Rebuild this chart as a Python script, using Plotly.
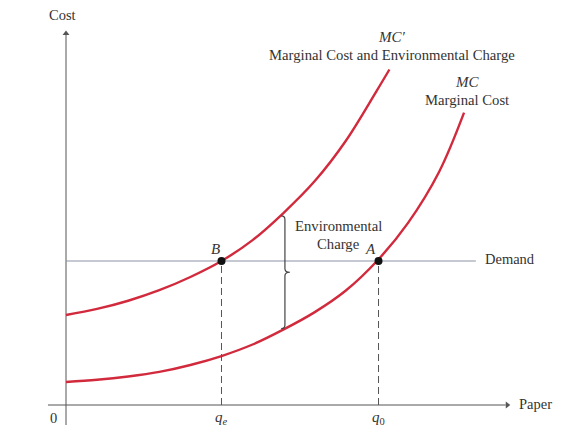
import numpy as np
import plotly.graph_objects as go

# ---- data ----
mc_env_x = [0, 1, 2, 3, 4, 5, 6, 7, 8, 9, 10, 10.4]
mc_env_y = [6.25, 6.67, 7.24, 7.97, 8.89, 10.0, 11.45, 13.35, 15.55, 18.35, 21.85, 23.3]

mc_x = [0, 1, 2, 3, 4, 5, 6, 7, 8, 9, 10, 11, 12, 12.8]
mc_y = [1.6, 1.75, 1.98, 2.3, 2.78, 3.4, 4.2, 5.25, 6.45, 7.95, 10.0, 12.65, 16.2, 20.3]

demand_price = 10.0
demand_x_end = 13.18
q_e = 5.0
q_0 = 10.05
brace_x = 7.04

point_q = [q_e, q_0]

# axis extents (data units)
x_axis_span = [-0.58, 14.34]
y_axis_span = [-1.39, 26.1]

RED = "#d22a3d"
TXT = "#333333"
AX = "#555555"
FONT = "Liberation Serif"

fig = go.Figure()

# axes lines
fig.add_trace(go.Scatter(x=[0, 0], y=[y_axis_span[0], y_axis_span[1] - 0.4], mode="lines",
                         line=dict(color=AX, width=1), hoverinfo="skip", showlegend=False))
fig.add_trace(go.Scatter(x=[x_axis_span[0], x_axis_span[1] - 0.2], y=[0, 0], mode="lines",
                         line=dict(color=AX, width=1), hoverinfo="skip", showlegend=False))
# arrow heads
fig.add_trace(go.Scatter(x=[0], y=[y_axis_span[1] - 0.3], mode="markers",
                         marker=dict(symbol="triangle-up", size=6, color=AX),
                         hoverinfo="skip", showlegend=False))
fig.add_trace(go.Scatter(x=[x_axis_span[1] - 0.15], y=[0], mode="markers",
                         marker=dict(symbol="triangle-right", size=6, color=AX),
                         hoverinfo="skip", showlegend=False))

fig.add_trace(go.Scatter(x=mc_env_x, y=mc_env_y, mode="lines",
                         line=dict(color=RED, width=2.4, shape="spline", smoothing=1.0),
                         hoverinfo="skip", showlegend=False))
fig.add_trace(go.Scatter(x=mc_x, y=mc_y, mode="lines",
                         line=dict(color=RED, width=2.4, shape="spline", smoothing=1.0),
                         hoverinfo="skip", showlegend=False))

# demand line
fig.add_trace(go.Scatter(x=[0, demand_x_end], y=[demand_price, demand_price], mode="lines",
                         line=dict(color="#8d91a6", width=1.1),
                         hoverinfo="skip", showlegend=False))

# dashed verticals
for q in point_q:
    fig.add_trace(go.Scatter(x=[q, q], y=[0, demand_price], mode="lines",
                             line=dict(color=AX, width=1, dash="7px,4px"),
                             hoverinfo="skip", showlegend=False))

# equilibrium points
fig.add_trace(go.Scatter(x=point_q, y=[demand_price] * 2, mode="markers",
                         marker=dict(color="#111111", size=8),
                         hoverinfo="skip", showlegend=False))

# brace between curves
top = float(np.interp(brace_x, mc_env_x, mc_env_y)) - 0.3
bot = float(np.interp(brace_x, mc_x, mc_y))
mid = (top + bot) / 2
d = 0.25
path = (f"M {brace_x-0.12},{top} Q {brace_x},{top} {brace_x},{top-d} "
        f"L {brace_x},{mid+d} Q {brace_x},{mid} {brace_x+0.16},{mid} "
        f"Q {brace_x},{mid} {brace_x},{mid-d} "
        f"L {brace_x},{bot+d} Q {brace_x},{bot} {brace_x-0.12},{bot}")
fig.add_shape(type="path", path=path, xref="x", yref="y",
              line=dict(color="#444444", width=1.2))

def txt(x, y, s, size=14.5, xanchor="center", italic=False):
    fig.add_annotation(x=x, y=y, xref="x", yref="y", text=(f"<i>{s}</i>" if italic else s),
                       showarrow=False, xanchor=xanchor, yanchor="middle",
                       font=dict(family=FONT, size=size, color=TXT))

txt(-0.1, 27.1, "Cost")
txt(-0.4, -0.9, "0")
txt(q_e, -0.9, "<i>q</i><sub><i>e</i></sub>", size=15)
txt(q_0, -0.9, "<i>q</i><sub>0</sub>", size=15)
txt(14.5, 0.05, "Paper", xanchor="left")
txt(13.4, 10.15, "Demand", xanchor="left")
txt(10.48, 25.55, "MC′", italic=True, size=15)
txt(10.48, 24.3, "Marginal Cost and Environmental Charge", size=14.7)
txt(12.89, 22.4, "MC", italic=True, size=15)
txt(12.89, 21.15, "Marginal Cost", size=14.7)
txt(8.75, 12.4, "Environmental", size=14.7)
txt(8.75, 11.15, "Charge", size=14.7)
txt(4.8, 10.8, "B", italic=True, size=15)
txt(9.8, 10.8, "A", italic=True, size=15)

# page has an 8px body margin: figure sized to fit, ranges set so data lands where the reference has it
fig.update_layout(
    width=568, height=435,
    margin=dict(l=0, r=0, t=0, b=0),
    paper_bgcolor="white", plot_bgcolor="white",
    xaxis=dict(visible=False, range=[-1.865, 16.40], fixedrange=True),
    yaxis=dict(visible=False, range=[-2.639, 27.57], fixedrange=True),
    showlegend=False,
)

fig.write_html("out.html")
